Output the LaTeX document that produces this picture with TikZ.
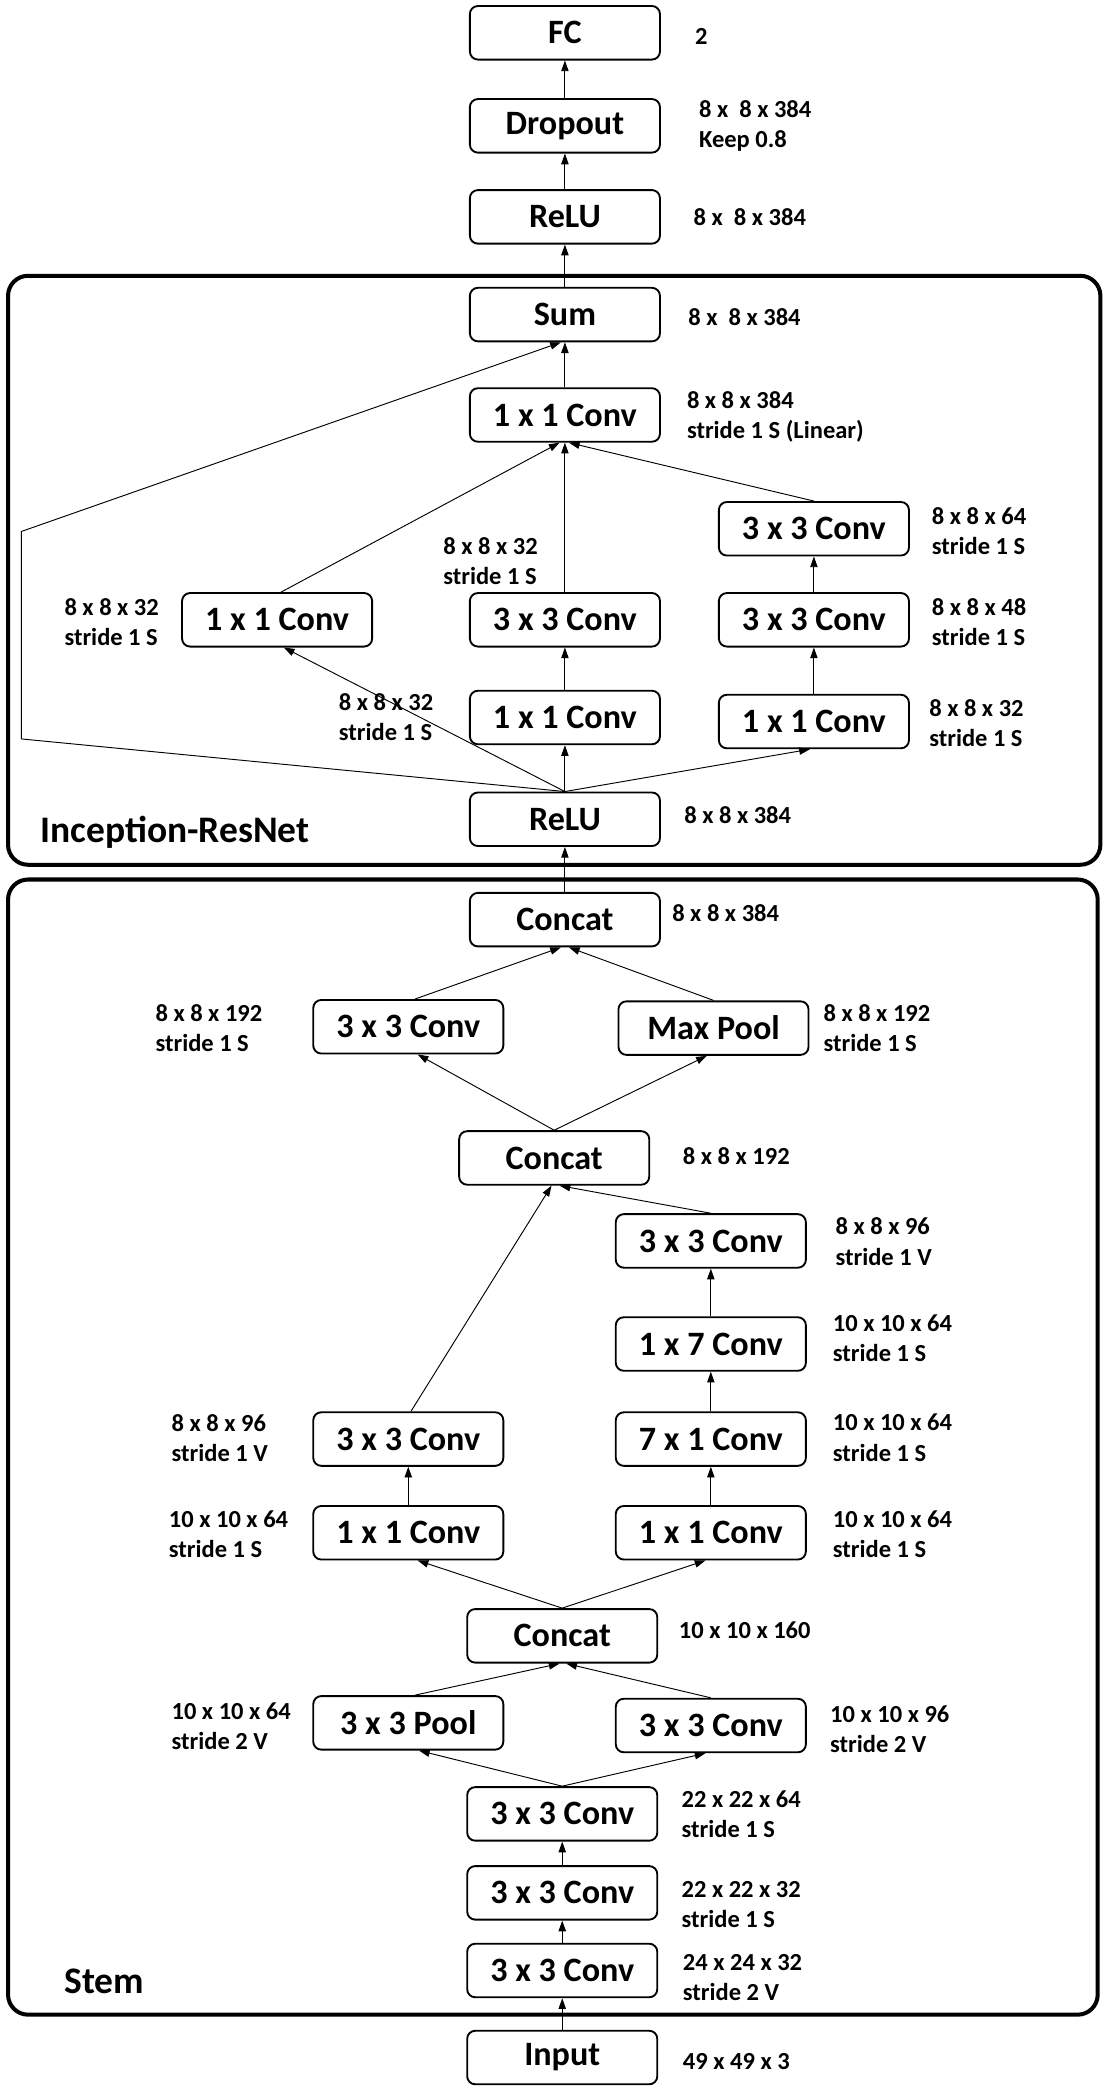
\documentclass[tikz,border=0pt]{standalone}
\usepackage{fontspec}
\setmainfont{Carlito}
\usetikzlibrary{arrows.meta}
\begin{document}
\begin{tikzpicture}[x=1pt,y=-1pt,
  box/.style={draw, rounded corners=6pt, minimum width=142pt, minimum height=40pt, line width=1.4pt, inner sep=0pt, font=\fontsize{25.5}{28}\selectfont\bfseries},
  lab/.style={anchor=west, align=left, inner sep=0pt, font=\fontsize{18.3}{22.5}\selectfont\bfseries},
  ttl/.style={anchor=west, inner sep=0pt, font=\fontsize{28}{30}\selectfont\bfseries},
  frame/.style={draw, line width=3pt, rounded corners=15pt},
  arr/.style={line width=0.7pt, -{Triangle[length=8pt,width=5.5pt]}},
  ln/.style={line width=0.7pt}]
\useasboundingbox (0,0) rectangle (824,1568);
% frames
\draw[frame] (6,206) rectangle (822,646);
\draw[frame] (6,657) rectangle (820,1505);
% top
\node[box] (fc) at (422,24.5) {FC};
\node[box] (drop) at (422,94) {Dropout};
\node[box] (relu2) at (422,162) {ReLU};
% inception-resnet
\node[box] (sum) at (422,235) {Sum};
\node[box] (lin) at (422,310) {1 x 1 Conv};
\node[box] (r3b) at (608,395) {3 x 3 Conv};
\node[box] (l1) at (207,463) {1 x 1 Conv};
\node[box] (m3) at (422,463) {3 x 3 Conv};
\node[box] (r3a) at (608,463) {3 x 3 Conv};
\node[box] (m1) at (422,536) {1 x 1 Conv};
\node[box] (r1) at (608,539) {1 x 1 Conv};
\node[box] (relu1) at (422,612) {ReLU};
\node[ttl] (irn) at (30,622) {Inception-ResNet};
% stem
\node[box] (cat3) at (422,687) {Concat};
\node[box] (s3l) at (305,767) {3 x 3 Conv};
\node[box] (mp) at (533,768) {Max Pool};
\node[box] (cat2) at (414,865) {Concat};
\node[box] (s3r) at (531,927) {3 x 3 Conv};
\node[box] (c17) at (531,1004) {1 x 7 Conv};
\node[box] (s3ll) at (305,1075) {3 x 3 Conv};
\node[box] (c71) at (531,1075) {7 x 1 Conv};
\node[box] (s1l) at (305,1145) {1 x 1 Conv};
\node[box] (s1r) at (531,1145) {1 x 1 Conv};
\node[box] (cat1) at (420,1222) {Concat};
\node[box] (pool) at (305,1287) {3 x 3 Pool};
\node[box] (s3c) at (531,1289) {3 x 3 Conv};
\node[box] (c3) at (420,1355) {3 x 3 Conv};
\node[box] (c2) at (420,1414) {3 x 3 Conv};
\node[box] (c1) at (420,1472) {3 x 3 Conv};
\node[ttl] (stem) at (48,1480) {Stem};
\node[box] (inp) at (420,1537) {Input};
% labels
\node[lab] (t1) at (519,27) {2};
\node[lab] (t2) at (522,94) {8 x\ \ 8 x 384\\Keep 0.8};
\node[lab] (t3) at (518,162) {8 x\ \ 8 x 384};
\node[lab] (t4) at (514,237) {8 x\ \ 8 x 384};
\node[lab] (t5) at (513,311.5) {8 x 8 x 384\\stride 1 S (Linear)};
\node[lab] (t6) at (696,396.5) {8 x 8 x 64\\stride 1 S};
\node[lab] (t7) at (331,419.5) {8 x 8 x 32\\stride 1 S};
\node[lab] (t8) at (48,464.5) {8 x 8 x 32\\stride 1 S};
\node[lab] (t9) at (696,464.5) {8 x 8 x 48\\stride 1 S};
\node[lab] (t10) at (253,535.5) {8 x 8 x 32\\stride 1 S};
\node[lab] (t11) at (694,540) {8 x 8 x 32\\stride 1 S};
\node[lab] (t12) at (511,609) {8 x 8 x 384};
\node[lab] (t13) at (502,682) {8 x 8 x 384};
\node[lab] (t14) at (116,768) {8 x 8 x 192\\stride 1 S};
\node[lab] (t15) at (615,768) {8 x 8 x 192\\stride 1 S};
\node[lab] (t16) at (510,864) {8 x 8 x 192};
\node[lab] (t17) at (624,927.5) {8 x 8 x 96\\stride 1 V};
\node[lab] (t18) at (622,999.5) {10 x 10 x 64\\stride 1 S};
\node[lab] (t19) at (128,1074) {8 x 8 x 96\\stride 1 V};
\node[lab] (t20) at (622,1074) {10 x 10 x 64\\stride 1 S};
\node[lab] (t21) at (126,1146) {10 x 10 x 64\\stride 1 S};
\node[lab] (t22) at (622,1146) {10 x 10 x 64\\stride 1 S};
\node[lab] (t23) at (507,1218) {10 x 10 x 160};
\node[lab] (t24) at (128,1289.5) {10 x 10 x 64\\stride 2 V};
\node[lab] (t25) at (620,1291.5) {10 x 10 x 96\\stride 2 V};
\node[lab] (t26) at (509,1355) {22 x 22 x 64\\stride 1 S};
\node[lab] (t27) at (509,1423) {22 x 22 x 32\\stride 1 S};
\node[lab] (t28) at (510,1477) {24 x 24 x 32\\stride 2 V};
\node[lab] (t29) at (510,1540) {49 x 49 x 3};
% connectors top
\draw[arr] (drop) -- (fc);
\draw[arr] (relu2) -- (drop);
\draw[arr] (sum) -- (relu2);
\draw[arr] (lin) -- (sum);
\coordinate (sk1) at (16,552);
\coordinate (sk2) at (16,397);
\draw[arr] (relu1.north) -- (sk1) -- (sk2) -- ([xshift=-3pt]sum.south);
\draw[arr] ([xshift=3pt]l1.north) -- ([xshift=-4pt]lin.south);
\draw[arr] (m3) -- (lin);
\draw[arr] (r3b.north) -- ([xshift=3pt]lin.south);
\draw[arr] (relu1.north) -- ([xshift=5pt]l1.south);
\draw[arr] (m1) -- (m3);
\draw[arr] (relu1) -- (m1);
\draw[arr] (r3a) -- (r3b);
\draw[arr] (r1) -- (r3a);
\draw[arr] (relu1.north) -- ([xshift=-3pt]r1.south);
\draw[arr] (cat3) -- (relu1);
% stem connectors
\draw[arr] ([xshift=5pt]s3l.north) -- ([xshift=-3pt]cat3.south);
\draw[arr] (mp.north) -- ([xshift=3pt]cat3.south);
\draw[arr] (cat2.north) -- ([xshift=7pt]s3l.south);
\draw[arr] (cat2.north) -- ([xshift=-5pt]mp.south);
\draw[arr] (s3r.north) -- ([xshift=4pt]cat2.south);
\draw[arr] ([xshift=2pt]s3ll.north) -- ([xshift=-2pt]cat2.south);
\draw[arr] (c17) -- (s3r);
\draw[arr] (c71) -- (c17);
\draw[arr] (s1r) -- (c71);
\draw[arr] (s1l) -- (s3ll);
\draw[arr] (cat1.north) -- ([xshift=7pt]s1l.south);
\draw[arr] (cat1.north) -- ([xshift=-4pt]s1r.south);
\draw[arr] ([xshift=5pt]pool.north) -- ([xshift=-2pt]cat1.south);
\draw[arr] (s3c.north) -- ([xshift=3pt]cat1.south);
\draw[arr] (c3.north) -- ([xshift=8pt]pool.south);
\draw[arr] (c3.north) -- ([xshift=-4pt]s3c.south);
\draw[arr] (c2) -- (c3);
\draw[arr] (c1) -- (c2);
\draw[arr] (inp) -- (c1);
\end{tikzpicture}
\end{document}
